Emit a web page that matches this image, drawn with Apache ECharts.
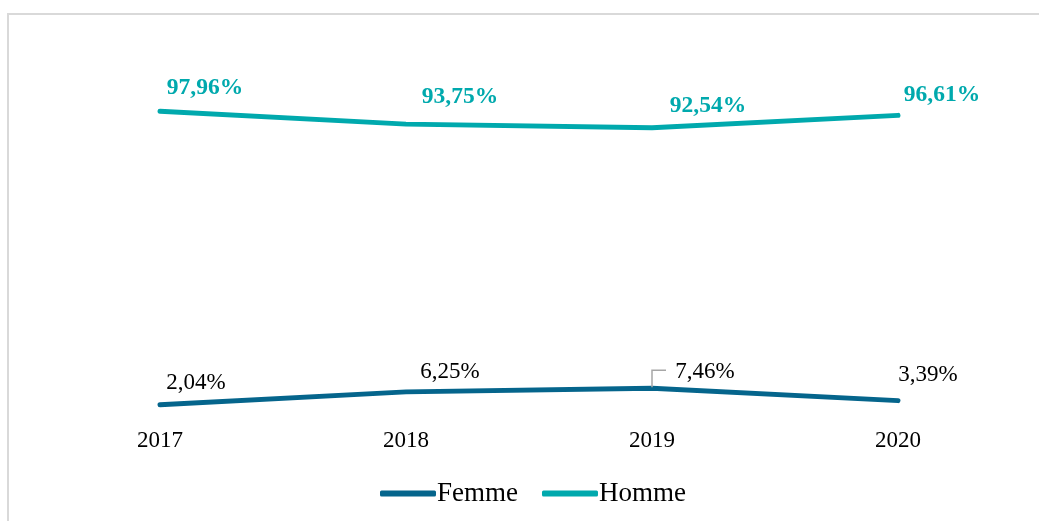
<!DOCTYPE html>
<html>
<head>
<meta charset="utf-8">
<script src="https://cdn.jsdelivr.net/npm/echarts@6/dist/echarts.min.js"></script>
<style>
  html, body { margin: 0; padding: 0; background: #fff; }
  #container { width: 1039px; height: 521px; }
</style>
</head>
<body>
<div id="container"></div>
<script>
const years = ['2017', '2018', '2019', '2020'];
const femme = [2.04, 6.25, 7.46, 3.39];
const homme = [97.96, 93.75, 92.54, 96.61];

// label offsets
const femmeOffsets = [[36, -5], [44, -3], [53, 0], [30, -9]];
const hommeOffsets = [[45, -6], [54, -10], [56, -5], [44, -3]];

const fmt = v => v.toFixed(2).replace('.', ',') + '%';
const font = '"Liberation Serif", "Times New Roman", serif';

const myChart = echarts.init(document.getElementById('container'));
const option = {
    textStyle: { fontFamily: font },
    graphic: [{
        type: 'rect',
        shape: { x: 8, y: 14, width: 1200, height: 700 },
        style: { fill: 'none', stroke: '#d9d9d9', lineWidth: 2 },
        silent: true,
        z: -10
    }],
    grid: { left: 37, right: 18, top: 105, bottom: 110 },
    xAxis: {
        type: 'category',
        data: years,
        boundaryGap: true,
        axisLine: { show: false },
        axisTick: { show: false },
        axisLabel: { color: '#000', fontSize: 23, fontFamily: font, margin: 18 }
    },
    yAxis: {
        type: 'value',
        min: 0,
        max: 100,
        show: false,
        splitLine: { show: false }
    },
    legend: {
        bottom: 9,
        left: 375,
        itemWidth: 56,
        itemHeight: 6,
        itemGap: 24,
        textStyle: { color: '#000', fontSize: 27, fontFamily: font, padding: [0, 0, 0, -4] },
        data: [
            { name: 'Femme', icon: 'roundRect' },
            { name: 'Homme', icon: 'roundRect' }
        ]
    },
    series: [
        {
            name: 'Femme',
            type: 'line',
            symbol: 'circle',
            symbolSize: 0,
            color: '#05658c',
            lineStyle: { width: 5, color: '#05658c', cap: 'round' },
            data: femme.map((v, i) => ({
                value: v,
                label: { offset: femmeOffsets[i] }
            })),
            label: {
                show: true,
                position: 'top',
                color: '#000',
                fontSize: 23,
                fontFamily: font,
                formatter: p => fmt(p.value)
            }
        },
        {
            name: 'Homme',
            type: 'line',
            symbol: 'circle',
            symbolSize: 0,
            color: '#00a9ad',
            lineStyle: { width: 5, color: '#00a9ad', cap: 'round' },
            data: homme.map((v, i) => ({
                value: v,
                label: { offset: hommeOffsets[i] }
            })),
            label: {
                show: true,
                position: 'top',
                color: '#00a9ad',
                fontSize: 23.5,
                fontWeight: 'bold',
                fontFamily: font,
                formatter: p => fmt(p.value)
            }
        }
    ]
};
myChart.setOption(option);

// leader line for the 2019 Femme label
const p = myChart.convertToPixel({ gridIndex: 0 }, [years[2], femme[2]]);
myChart.setOption({
    graphic: [
        option.graphic[0],
        {
            type: 'polyline',
            shape: { points: [[p[0], p[1] - 1], [p[0], p[1] - 18], [p[0] + 14, p[1] - 18]] },
            style: { stroke: '#a6a6a6', lineWidth: 1.5, fill: 'none' },
            silent: true,
            z: 10
        }
    ]
});

window.addEventListener('resize', () => {
    myChart.resize()
})
</script>
</body>
</html>
